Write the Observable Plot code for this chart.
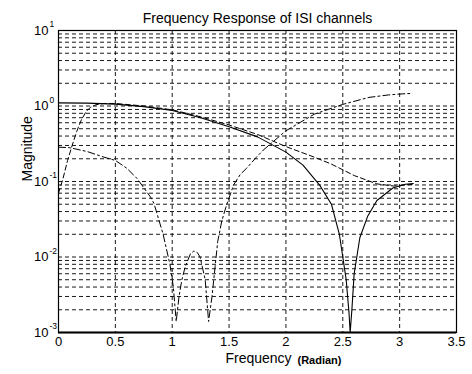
<!DOCTYPE html>
<html>
<head>
<meta charset="utf-8">
<script src="https://cdn.jsdelivr.net/npm/d3@7"></script>
<script src="https://cdn.jsdelivr.net/npm/@observablehq/plot@0.6"></script>
<style>
  html, body { margin: 0; padding: 0; background: #fff; }
  #chart { width: 472px; height: 374px; }
</style>
</head>
<body>
<div id="chart"></div>
<script>
// ---- chart text ----
const titleText = "Frequency Response of ISI channels";
const xLabelMain = "Frequency";
const xLabelUnit = "(Radian)";
const yLabel = "Magnitude";

// ---- ticks ----
const xTicks = [0, 0.5, 1, 1.5, 2, 2.5, 3, 3.5];
const xTickLabels = ["0", "0.5", "1", "1.5", "2", "2.5", "3", "3.5"];
const yTicks = [1e-3, 1e-2, 1e-1, 1, 10];
const yTickBase = ["10", "10", "10", "10", "10"];
const yTickExp = ["-3", "-2", "-1", "0", "1"];
const gridMultipliers = [1, 2, 3, 4, 5, 6, 7, 8, 9];
const gridDecades = [1e-3, 1e-2, 1e-1, 1];

// ---- series: channel A (solid) ----
const freqA = [0, 0.25, 0.5, 0.75, 1.0, 1.25, 1.5, 1.75, 2.0, 2.15, 2.3, 2.4, 2.47, 2.53, 2.555, 2.565, 2.58, 2.6, 2.65, 2.72, 2.8, 2.94, 3.05, 3.12];
const magA  = [1.1, 1.09, 1.06, 0.98, 0.87, 0.7, 0.53, 0.39, 0.245, 0.165, 0.088, 0.05, 0.02, 0.005, 0.0018, 0.001, 0.002, 0.006, 0.018, 0.035, 0.056, 0.082, 0.092, 0.094];

// ---- series: channel B (dashed) ----
const freqB = [0, 0.04, 0.08, 0.12, 0.16, 0.2, 0.24, 0.28, 0.33, 0.4, 0.5, 0.75, 1.0, 1.25, 1.5, 1.75, 2.0, 2.25, 2.4, 2.6, 2.8, 2.95, 3.05, 3.12];
const magB  = [0.07, 0.11, 0.19, 0.3, 0.46, 0.65, 0.83, 0.96, 1.04, 1.08, 1.08, 1.0, 0.89, 0.72, 0.56, 0.42, 0.29, 0.21, 0.17, 0.12, 0.093, 0.087, 0.09, 0.092];

// ---- series: channel C (dash-dot) ----
const freqC = [0, 0.1, 0.25, 0.4, 0.5, 0.6, 0.69, 0.81, 0.84, 0.92, 0.98, 1.01, 1.035, 1.06, 1.085, 1.114, 1.16, 1.19, 1.22, 1.245, 1.29, 1.32, 1.35, 1.377, 1.4, 1.436, 1.48, 1.54, 1.6, 1.655, 1.74, 1.8, 2.0, 2.25, 2.5, 2.73, 2.9, 3.0, 3.11];
const magC  = [0.285, 0.28, 0.25, 0.21, 0.19, 0.15, 0.11, 0.062, 0.051, 0.02, 0.008, 0.004, 0.0014, 0.003, 0.005, 0.0074, 0.011, 0.012, 0.0115, 0.01, 0.005, 0.0014, 0.003, 0.0074, 0.016, 0.03, 0.05, 0.09, 0.125, 0.15, 0.21, 0.26, 0.47, 0.78, 1.05, 1.3, 1.4, 1.44, 1.47];

const toRows = (fs, ms) => fs.map((f, i) => ({f, m: ms[i]}));
const dataA = toRows(freqA, magA);
const dataB = toRows(freqB, magB);
const dataC = toRows(freqC, magC);

const yGrid = gridDecades.flatMap(d => gridMultipliers.map(m => m * d)).filter(v => v > 1e-3 && v < 10);
const xGrid = xTicks.filter(v => v > 0 && v < 3.5);
const yTickRows = yTicks.map((v, i) => ({v, base: yTickBase[i], exp: yTickExp[i]}));

const gridStyle = {stroke: "#000", strokeWidth: 1, strokeDasharray: "4,3", strokeOpacity: 0.9};

const chart = Plot.plot({
  width: 472,
  height: 374,
  marginLeft: 58,
  marginRight: 16,
  marginTop: 30,
  marginBottom: 42,
  style: {fontFamily: "'Liberation Sans', Arial, sans-serif", fontSize: "13px", background: "#fff", color: "#000"},
  x: {domain: [0, 3.5]},
  y: {type: "log", domain: [1e-3, 10]},
  marks: [
    Plot.ruleY(yGrid, gridStyle),
    Plot.ruleX(xGrid, gridStyle),
    Plot.line(dataC, {x: "f", y: "m", stroke: "#000", strokeWidth: 1, strokeDasharray: "7,3,2,3"}),
    Plot.line(dataB, {x: "f", y: "m", stroke: "#000", strokeWidth: 1, strokeDasharray: "5,3"}),
    Plot.line(dataA, {x: "f", y: "m", stroke: "#000", strokeWidth: 1.1}),
    Plot.frame({stroke: "#000", strokeWidth: 1.2}),
    Plot.ruleY([1e-3], {stroke: "#000", strokeWidth: 2}),
    Plot.axisX(xTicks, {
      tickSize: 0, tickPadding: 4, fontSize: 13, label: null,
      tickFormat: d => xTickLabels[xTicks.indexOf(d)]
    }),
    Plot.axisY({ticks: [], label: null, tickSize: 0}),
    Plot.text(yTickRows, {frameAnchor: "left", y: "v", text: "base", textAnchor: "end", dx: -10, fontSize: 13}),
    Plot.text(yTickRows, {frameAnchor: "left", y: "v", text: "exp", textAnchor: "start", dx: -9, dy: -6, fontSize: 8.5}),
    Plot.text([titleText], {frameAnchor: "top", text: d => d, dy: -17, fontSize: 14}),
    Plot.text([xLabelMain], {frameAnchor: "bottom", text: d => d, dy: 30, dx: 1, fontSize: 14}),
    Plot.text([xLabelUnit], {frameAnchor: "bottom", text: d => d, dy: 31, dx: 62, fontSize: 11, fontWeight: "bold"}),
    Plot.text([yLabel], {frameAnchor: "left", text: d => d, rotate: -90, dx: -31, fontSize: 14})
  ]
});
document.getElementById("chart").appendChild(chart);
</script>
</body>
</html>
